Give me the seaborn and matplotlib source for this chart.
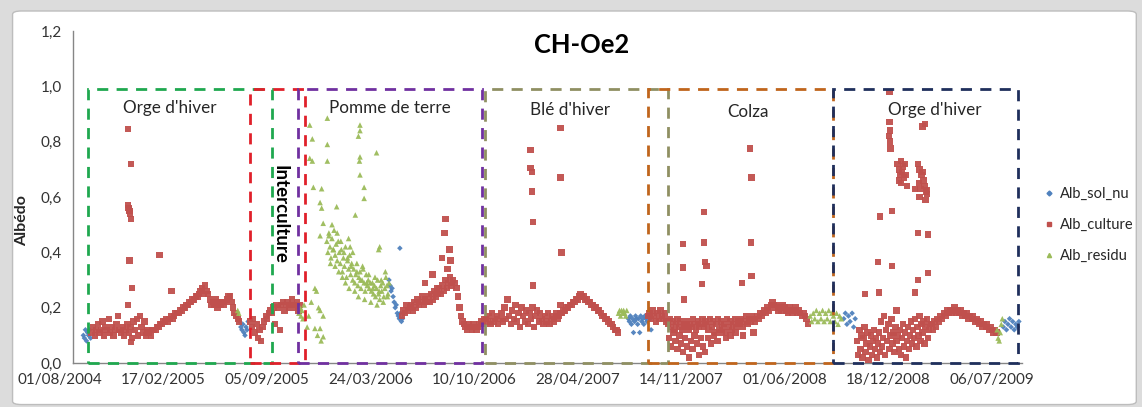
import matplotlib
matplotlib.use("Agg")
import matplotlib.pyplot as plt
import matplotlib.dates as mdates
from matplotlib.lines import Line2D
from matplotlib.patches import Rectangle, FancyBboxPatch
from matplotlib.ticker import FuncFormatter
import pandas as pd
import seaborn as sns

# jour 0 = 01/08/2004
ORIGINE = pd.Timestamp("2004-08-01")

# Alb_culture : bandes quasi continues -> (jour de départ, pas en jours, valeurs)
culture_bandes = [
    (62, 3, [0.11, 0.13, 0.10, 0.12, 0.14, 0.11, 0.12, 0.15, 0.10, 0.13, 0.12, 0.16, 0.11, 0.13, 0.10,
             0.12, 0.14, 0.17, 0.12, 0.11, 0.13, 0.10, 0.12, 0.14, 0.11,
             0.13, 0.09, 0.15, 0.12, 0.16, 0.10, 0.17, 0.13, 0.11, 0.15, 0.10, 0.12, 0.11, 0.10, 0.12,
             0.12, 0.12, 0.13, 0.13, 0.14, 0.14, 0.15, 0.15, 0.16, 0.15, 0.16, 0.17, 0.16, 0.17, 0.18,
             0.18, 0.18, 0.19, 0.19, 0.20, 0.20, 0.21, 0.21, 0.22, 0.22, 0.23, 0.23, 0.24, 0.24, 0.25,
             0.26, 0.27, 0.25, 0.28, 0.26, 0.25,
             0.23, 0.21, 0.22, 0.21, 0.23, 0.20, 0.22, 0.21, 0.22, 0.21, 0.22,
             0.23, 0.24, 0.24, 0.22, 0.20, 0.18, 0.17, 0.16, 0.15]),
    (368, 3, [0.15, 0.13, 0.16, 0.11, 0.14, 0.09, 0.12, 0.08, 0.13, 0.15, 0.17, 0.16,
              0.18, 0.19, 0.18, 0.20, 0.14, 0.21, 0.20, 0.12, 0.21, 0.22, 0.19, 0.21,
              0.22, 0.20, 0.21, 0.23, 0.21, 0.20, 0.22, 0.19, 0.21]),
    (661, 3, [0.17, 0.19, 0.18, 0.21, 0.19, 0.20,
              0.21, 0.19, 0.22, 0.20, 0.23, 0.21, 0.22, 0.24, 0.21, 0.23, 0.22,
              0.24, 0.22, 0.25, 0.23, 0.26, 0.24, 0.25, 0.27, 0.25,
              0.28, 0.26, 0.30, 0.27, 0.29, 0.31, 0.28, 0.30, 0.29,
              0.27, 0.24, 0.20, 0.17, 0.15, 0.14,
              0.13, 0.12, 0.14, 0.13, 0.12, 0.14, 0.13, 0.12, 0.13, 0.14, 0.15, 0.14, 0.16]),
    (823, 3, [0.16, 0.15, 0.17, 0.14, 0.18, 0.15, 0.16, 0.17, 0.14, 0.16,
              0.18, 0.15, 0.20, 0.16, 0.23, 0.17, 0.14, 0.19, 0.16, 0.21, 0.15, 0.18, 0.13,
              0.20, 0.17, 0.15, 0.19, 0.14, 0.18, 0.16, 0.20, 0.13, 0.17, 0.19, 0.15, 0.18,
              0.16, 0.14, 0.17, 0.15, 0.18, 0.14, 0.16, 0.17, 0.15, 0.18, 0.16, 0.17, 0.18,
              0.18, 0.19, 0.19, 0.20, 0.20, 0.21, 0.21, 0.22, 0.22, 0.23, 0.23, 0.24, 0.25, 0.24,
              0.24, 0.23, 0.23, 0.22, 0.22, 0.21, 0.21, 0.20, 0.20, 0.19, 0.19, 0.18, 0.17,
              0.17, 0.16, 0.16, 0.15, 0.14, 0.14, 0.13, 0.12, 0.12, 0.11]),
    (1136, 3, [0.17, 0.18, 0.16, 0.19, 0.17, 0.15, 0.18, 0.16, 0.19, 0.17, 0.16, 0.18,
               0.15, 0.14, 0.16, 0.13, 0.15, 0.12, 0.14, 0.16, 0.13, 0.15, 0.12, 0.14, 0.13,
               0.15, 0.12, 0.14, 0.13, 0.16, 0.14, 0.12, 0.15, 0.13, 0.14, 0.16, 0.13, 0.15,
               0.14, 0.12, 0.16, 0.13, 0.15, 0.11, 0.14, 0.16, 0.12, 0.15, 0.13, 0.14, 0.11,
               0.16, 0.13, 0.15, 0.12, 0.14, 0.16, 0.13, 0.15,
               0.14, 0.16, 0.13, 0.15, 0.17, 0.14, 0.16, 0.15, 0.17, 0.16, 0.15, 0.17, 0.16,
               0.18, 0.17, 0.18, 0.19, 0.18, 0.20, 0.19, 0.21, 0.22, 0.21,
               0.20, 0.21, 0.19, 0.20, 0.19, 0.21, 0.20, 0.19, 0.18, 0.20, 0.19, 0.18, 0.19,
               0.20, 0.18, 0.19, 0.18, 0.17, 0.18, 0.17, 0.16, 0.14]),
    (1540, 2, [0.08, 0.03, 0.12, 0.05, 0.10, 0.02, 0.09, 0.13, 0.04, 0.07, 0.11, 0.01, 0.06, 0.10,
               0.03, 0.08, 0.12, 0.05, 0.09, 0.02,
               0.07, 0.11, 0.04, 0.15, 0.06, 0.09, 0.17, 0.03, 0.12, 0.08, 0.14, 0.05, 0.10, 0.16,
               0.07, 0.11, 0.04, 0.13, 0.08, 0.10,
               0.05, 0.12, 0.03, 0.09, 0.14, 0.06, 0.11, 0.02, 0.08, 0.13, 0.05, 0.10, 0.15, 0.07, 0.12,
               0.09, 0.16, 0.06, 0.13, 0.10, 0.17, 0.08, 0.14, 0.11, 0.15, 0.07, 0.13, 0.16, 0.09,
               0.12, 0.14]),
    (1683, 3, [0.14, 0.12, 0.15, 0.13, 0.16, 0.15, 0.17, 0.16, 0.18, 0.17,
               0.19, 0.18, 0.19, 0.18, 0.19, 0.20, 0.18, 0.19, 0.18, 0.19,
               0.17, 0.18, 0.17, 0.18, 0.16, 0.17, 0.16, 0.17, 0.15, 0.16,
               0.15, 0.14, 0.15, 0.13, 0.14, 0.13, 0.14, 0.12, 0.13, 0.12,
               0.11, 0.12, 0.11]),
]
# Alb_culture : points isolés
culture_jours = [132, 138, 132, 133, 134, 135, 136, 138, 135, 140, 132, 138, 193, 216,
                 745, 743, 738, 753, 755, 749, 705, 720, 729,
                 967, 909, 909, 912, 912, 914, 967, 969, 914, 967,
                 1176, 1180, 1185, 1189, 1193, 1197, 1200, 1204, 1208, 1211, 1215, 1219, 1222,
                 1226, 1230, 1234, 1238, 1242, 1246, 1252, 1258, 1264, 1270, 1278, 1286, 1295,
                 1305, 1320, 1340,
                 1333, 1336, 1244, 1204, 1244, 1246, 1249, 1204, 1240, 1206, 1335, 1336, 1317,
                 1602, 1602, 1603, 1601, 1603, 1604, 1671, 1666,
                 1618, 1621, 1624, 1626, 1628, 1630, 1620, 1625, 1632, 1634, 1636, 1622,
                 1657, 1660, 1664, 1668, 1670, 1673, 1662, 1666, 1675, 1659,
                 1584, 1607, 1657, 1676, 1651, 1660, 1672, 1674, 1580, 1607, 1676, 1657,
                 1555, 1582, 1651, 1616]
culture_vals = [0.845, 0.72, 0.57, 0.56, 0.555, 0.55, 0.54, 0.52, 0.37, 0.27, 0.21, 0.075, 0.39, 0.26,
                0.52, 0.47, 0.38, 0.41, 0.37, 0.34, 0.29, 0.32, 0.27,
                0.85, 0.77, 0.705, 0.69, 0.62, 0.51, 0.67, 0.40, 0.28, 0.21,
                0.09, 0.06, 0.11, 0.08, 0.05, 0.10, 0.07, 0.04, 0.09, 0.06, 0.02, 0.08, 0.05,
                0.10, 0.07, 0.03, 0.09, 0.06, 0.04, 0.09, 0.07, 0.10, 0.08, 0.11, 0.09, 0.10,
                0.11, 0.10, 0.11,
                0.775, 0.67, 0.545, 0.43, 0.435, 0.365, 0.35, 0.345, 0.285, 0.23, 0.435, 0.315, 0.29,
                0.98, 0.87, 0.84, 0.82, 0.80, 0.775, 0.865, 0.855,
                0.72, 0.70, 0.73, 0.69, 0.71, 0.67, 0.66, 0.65, 0.72, 0.68, 0.64, 0.68,
                0.72, 0.70, 0.68, 0.66, 0.64, 0.62, 0.63, 0.69, 0.61, 0.65,
                0.53, 0.55, 0.47, 0.465, 0.63, 0.60, 0.59, 0.625, 0.365, 0.35, 0.325, 0.30,
                0.25, 0.255, 0.255, 0.19]

# Alb_residu
residu_bandes = [
    (516, 2, [0.44, 0.40, 0.47, 0.42, 0.38, 0.45, 0.41, 0.48, 0.39, 0.43, 0.37, 0.44, 0.40,
              0.36, 0.41, 0.33, 0.38, 0.35, 0.42, 0.31, 0.37, 0.34, 0.39, 0.32, 0.36, 0.30,
              0.34, 0.29, 0.32, 0.36, 0.28, 0.31, 0.33, 0.27, 0.30, 0.34, 0.29, 0.26, 0.32,
              0.28, 0.30, 0.27, 0.29,
              0.26, 0.29, 0.25, 0.28, 0.24, 0.27, 0.30, 0.25, 0.23, 0.28, 0.26, 0.29, 0.24,
              0.27, 0.31, 0.28, 0.25, 0.29]),
    (1449, 3, [0.17, 0.15, 0.18, 0.16, 0.19, 0.15, 0.18, 0.16, 0.19, 0.15, 0.18, 0.16, 0.19,
               0.15, 0.18, 0.17, 0.15, 0.18, 0.14, 0.17, 0.16]),
]
residu_jours = [344, 346,
                462, 464, 466, 468, 470, 472, 478, 481, 486,
                483, 488, 483, 488, 490, 506, 503, 506, 509, 503, 493, 496, 500, 503, 493, 503,
                509, 509, 498, 505, 517, 517, 517, 535,
                558, 561, 571, 580, 580, 577, 580, 579, 580, 588, 588, 612, 616, 618,
                520, 523, 526, 529, 532, 536, 539, 543, 546, 549, 552, 556, 559, 563, 566, 570,
                574, 577, 581, 585, 589, 593, 597, 601, 605, 609, 613, 617, 621, 625, 629, 633,
                1079, 1081, 1083, 1085, 1087, 1089, 1091, 1093, 1095,
                1810, 1812, 1814, 1816, 1818, 1820]
residu_vals = [0.19, 0.18,
               0.18, 0.20, 0.17, 0.19, 0.16, 0.21, 0.13, 0.17, 0.22,
               0.86, 0.81, 0.74, 0.73, 0.635, 0.63, 0.58, 0.56, 0.505, 0.46, 0.27, 0.26, 0.20,
               0.19, 0.125, 0.125, 0.17, 0.095, 0.10, 0.08, 0.885, 0.79, 0.73, 0.565,
               0.45, 0.42, 0.535, 0.86, 0.84, 0.82, 0.745, 0.73, 0.68, 0.635, 0.595, 0.76,
               0.41, 0.42,
               0.46, 0.36, 0.50, 0.41, 0.35, 0.47, 0.33, 0.44, 0.31, 0.40, 0.29, 0.38, 0.27,
               0.35, 0.40, 0.26, 0.33, 0.24, 0.30, 0.35, 0.23, 0.29, 0.32, 0.22, 0.27, 0.31,
               0.21, 0.26, 0.30, 0.22, 0.33, 0.24,
               0.18, 0.19, 0.17, 0.19, 0.18, 0.19, 0.18, 0.17, 0.19,
               0.12, 0.09, 0.08, 0.11, 0.14, 0.16]

# Alb_sol_nu
sol_nu_jours = [46, 48, 50, 52, 54, 56, 58, 60,
                348, 350, 352, 354, 356, 358, 360, 362, 364,
                636, 638, 640, 642, 644, 646, 648, 650, 652, 654, 656, 658, 660, 662, 657,
                1098, 1100, 1102, 1104, 1106, 1108, 1110, 1112, 1114, 1116, 1118, 1120, 1122,
                1124, 1126, 1128, 1130, 1132, 1134, 1136, 1140, 1142,
                1514, 1517, 1520, 1523, 1526, 1530, 1533, 1536,
                1822, 1825, 1828, 1831, 1834, 1837, 1840, 1843, 1846, 1849, 1852]
sol_nu_vals = [0.10, 0.09, 0.12, 0.08, 0.11, 0.10, 0.12, 0.09,
               0.15, 0.13, 0.12, 0.14, 0.11, 0.10, 0.13, 0.12, 0.15,
               0.30, 0.28, 0.26, 0.27, 0.24, 0.22, 0.20, 0.21, 0.18, 0.17, 0.16, 0.18, 0.15,
               0.16, 0.415,
               0.16, 0.15, 0.17, 0.14, 0.16, 0.11, 0.15, 0.17, 0.16, 0.14, 0.16, 0.11, 0.17,
               0.15, 0.16, 0.14, 0.17, 0.16, 0.15, 0.17, 0.16, 0.12,
               0.16, 0.18, 0.14, 0.17, 0.15, 0.18, 0.13, 0.16,
               0.13, 0.15, 0.12, 0.14, 0.16, 0.13, 0.15, 0.12, 0.14, 0.13, 0.15]

# périodes culturales (cadres pointillés)
periodes = ["Orge d'hiver", "Interculture", "Pomme de terre", "Blé d'hiver", "Colza", "Orge d'hiver"]
periode_debut = [55, 368, 460, 822, 1136, 1493]
periode_fin = [410, 474, 815, 1175, 1493, 1850]
periode_couleurs = ["#1fa84f", "#e0202a", "#7030a0", "#8f8f62", "#c0651c", "#1f2f5c"]
etiquette_jour = [213, 426, 638, 985, 1329, 1690]
etiquette_val = [0.92, 0.538, 0.92, 0.913, 0.906, 0.913]

series = ["Alb_sol_nu", "Alb_culture", "Alb_residu"]
couleurs = {"Alb_sol_nu": "#4f81bd", "Alb_culture": "#c0504d", "Alb_residu": "#9bbb59"}
marqueurs = {"Alb_sol_nu": "D", "Alb_culture": "s", "Alb_residu": "^"}
tailles = {"Alb_sol_nu": 8, "Alb_culture": 21, "Alb_residu": 16}


def depuis_bandes(bandes):
    jours, vals = [], []
    for debut, pas, valeurs in bandes:
        jours += [debut + pas * i for i in range(len(valeurs))]
        vals += valeurs
    return jours, vals


cj, cv = depuis_bandes(culture_bandes)
rj, rv = depuis_bandes(residu_bandes)
frames = [
    pd.DataFrame({"jour": sol_nu_jours, "albedo": sol_nu_vals, "serie": "Alb_sol_nu"}),
    pd.DataFrame({"jour": cj + culture_jours, "albedo": cv + culture_vals, "serie": "Alb_culture"}),
    pd.DataFrame({"jour": rj + residu_jours, "albedo": rv + residu_vals, "serie": "Alb_residu"}),
]
df = pd.concat(frames, ignore_index=True)
df["date"] = ORIGINE + pd.to_timedelta(df["jour"], unit="D")

sns.set_theme(style="white")
plt.rcParams["font.family"] = ["Lato", "DejaVu Sans"]

fig = plt.figure(figsize=(11.42, 4.07), dpi=100)
fig.patch.set_facecolor("#dcdcdc")
cadre = FancyBboxPatch((0.011, 0.006), 0.984, 0.967, boxstyle="round,pad=0,rounding_size=0.008",
                       transform=fig.transFigure, fc="white", ec="#bdbdbd", lw=1, zorder=-10)
fig.add_artist(cadre)
ax = fig.add_axes([73 / 1142, 44 / 407, 949 / 1142, 332 / 407])
ax.set_zorder(1)
ax.set_facecolor("none")

sns.scatterplot(data=df, x="date", y="albedo", hue="serie", style="serie", size="serie",
                hue_order=series, palette=couleurs, markers=marqueurs, sizes=tailles,
                linewidth=0, alpha=0.95, legend=False, ax=ax, zorder=3)

for nom, d0, d1, c in zip(periodes, periode_debut, periode_fin, periode_couleurs):
    x0 = mdates.date2num(ORIGINE + pd.Timedelta(days=d0))
    x1 = mdates.date2num(ORIGINE + pd.Timedelta(days=d1))
    ax.add_patch(Rectangle((x0, 0), x1 - x0, 0.99, fill=False, ec=c, lw=2,
                           ls=(0, (4, 3)), zorder=4, clip_on=False))

for nom, j, v in zip(periodes, etiquette_jour, etiquette_val):
    if nom == "Interculture":
        ax.text(ORIGINE + pd.Timedelta(days=j), v, nom, rotation=-90, ha="center", va="center",
                fontsize=13.5, fontweight="bold", color="black", zorder=5)
    else:
        ax.text(ORIGINE + pd.Timedelta(days=j), v, nom, ha="center", va="center",
                fontsize=12.3, color="#262626", zorder=5)

ax.set_ylim(0, 1.2)
ax.set_xlim(ORIGINE + pd.Timedelta(days=26), ORIGINE + pd.Timedelta(days=1858))
ax.set_yticks([0, 0.2, 0.4, 0.6, 0.8, 1.0, 1.2])
ax.yaxis.set_major_formatter(FuncFormatter(lambda v, p: f"{v:.1f}".replace(".", ",")))
graduations = pd.date_range(ORIGINE, periods=10, freq="200D")
ax.set_xticks(graduations[1:])
ax.xaxis.set_major_formatter(mdates.DateFormatter("%d/%m/%Y"))
ax.annotate(graduations[0].strftime("%d/%m/%Y"), xy=(graduations[0], 0), xycoords=("data", "axes fraction"),
            xytext=(0, -7.5), textcoords="offset points", ha="center", va="top",
            fontsize=11, color="#333333", annotation_clip=False)
ax.tick_params(axis="x", direction="inout", length=6, width=1, color="#868686", pad=4.5,
               labelsize=11, labelcolor="#333333")
ax.tick_params(axis="y", direction="out", length=4, width=1, color="#868686", pad=4,
               labelsize=11, labelcolor="#333333")
for s in ["top", "right"]:
    ax.spines[s].set_visible(False)
for s in ["left", "bottom"]:
    ax.spines[s].set_color("#868686")
    ax.spines[s].set_linewidth(1)

ax.set_xlabel("")
ax.set_ylabel("Albédo", fontsize=11.5, fontweight="bold", color="#262626")
ax.yaxis.set_label_coords(-0.046, 0.43)
ax.text(0.536, 0.958, "CH-Oe2", transform=ax.transAxes, ha="center", va="center",
        fontsize=18.4, fontweight="bold", color="black")

poignees = [Line2D([], [], ls="", marker=marqueurs[s], color=couleurs[s],
                   markersize={"Alb_sol_nu": 2.5, "Alb_culture": 3.5, "Alb_residu": 3}[s]) for s in series]
ax.legend(poignees, series, loc="center left", bbox_to_anchor=(1.008, 0.416), frameon=False,
          fontsize=10.5, labelspacing=1.15, handletextpad=0.3, handlelength=0.9)

fig.savefig("out.png", dpi=100)
